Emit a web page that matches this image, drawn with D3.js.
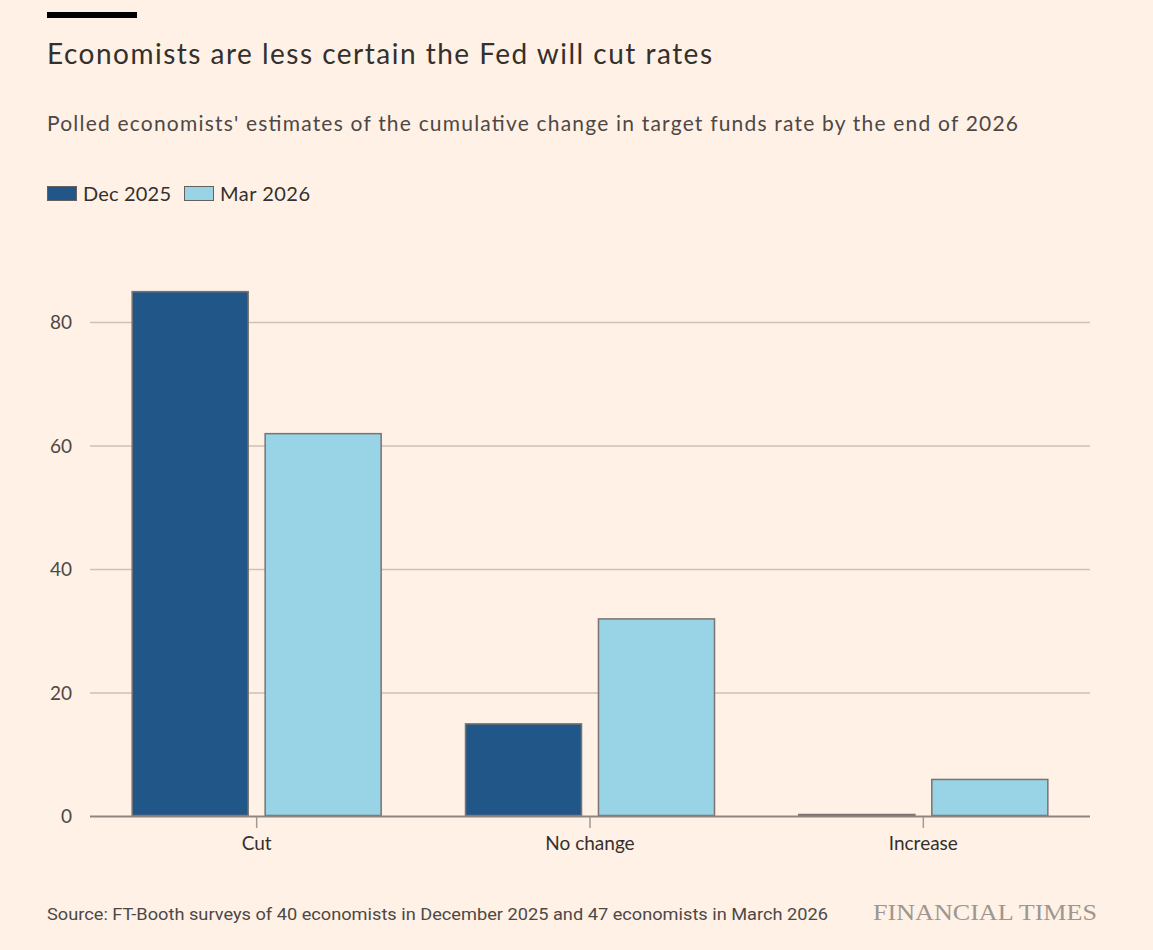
<!DOCTYPE html>
<html>
<head>
<meta charset="utf-8">
<script src="https://cdn.jsdelivr.net/npm/d3@7"></script>
<style>
  html, body { margin: 0; padding: 0; background: #fff1e5; }
  svg { display: block; font-family: Lato, "Open Sans", sans-serif; }
</style>
</head>
<body>
<svg id="chart" width="1153" height="950"></svg>
<script>
// chart data
const categories = ['Cut', 'No change', 'Increase']
const seriesNames = ['Dec 2025', 'Mar 2026']
const dec2025 = [85, 15, 0]
const mar2026 = [62, 32, 6]
const yTicks = [0, 20, 40, 60, 80]

const colours = ['#215689', '#98d3e6']

const svg = d3.select('#chart')
const margin = {top: 280, right: 63, bottom: 134, left: 90}
const width = +svg.attr('width') - margin.left - margin.right
const height = +svg.attr('height') - margin.top - margin.bottom

// top rule
svg.append('rect')
  .attr('x', 47).attr('y', 12)
  .attr('width', 90).attr('height', 6)
  .attr('fill', '#000')

svg.append('text')
  .attr('x', 47).attr('y', 64)
  .attr('font-size', 28)
  .attr('fill', '#33302e')
  .attr('textLength', 665)
  .text('Economists are less certain the Fed will cut rates')

svg.append('text')
  .attr('x', 47).attr('y', 131)
  .attr('font-size', 21)
  .attr('fill', '#4d4845')
  .attr('textLength', 971)
  .text("Polled economists' estimates of the cumulative change in target funds rate by the end of 2026")

// legend
const legendX = [47, 184]
const legendW = [88, 90]
seriesNames.forEach(function (name, i) {
  svg.append('rect')
    .attr('x', legendX[i] + 0.5).attr('y', 186.5)
    .attr('width', 29).attr('height', 14)
    .attr('fill', colours[i])
    .attr('stroke', '#66605c')
    .attr('stroke-width', 1)
  svg.append('text')
    .attr('x', legendX[i] + 36).attr('y', 201)
    .attr('font-size', 20)
    .attr('fill', '#33302e')
    .attr('textLength', legendW[i])
    .text(name)
})

const g = svg.append('g')
  .attr('transform', 'translate(' + margin.left + ',' + margin.top + ')')

const x0 = d3.scaleBand().domain(categories).range([0, width])
  .paddingInner(0.25).paddingOuter(0.125)
const x1 = d3.scaleBand().domain(seriesNames).range([0, x0.bandwidth()])
  .paddingInner(0.12)
const y = d3.scaleLinear().domain([0, 80]).range([height, height - 494])

// gridlines
g.append('g')
  .selectAll('line')
  .data(yTicks.filter(function (d) { return d !== 0 }))
  .enter().append('line')
  .attr('x1', 0).attr('x2', width)
  .attr('y1', function (d) { return y(d) + 0.5 })
  .attr('y2', function (d) { return y(d) + 0.5 })
  .attr('stroke', '#ccc1b7')
  .attr('stroke-width', 1.5)

// y labels
g.append('g')
  .selectAll('text')
  .data(yTicks)
  .enter().append('text')
  .attr('x', -18)
  .attr('y', function (d) { return y(d) + 7 })
  .attr('text-anchor', 'end')
  .attr('font-size', 19)
  .attr('fill', '#4d4845')
  .text(function (d) { return d })

// bars
const rows = categories.map(function (c, i) {
  return {cat: c, vals: [dec2025[i], mar2026[i]]}
})
const groups = g.append('g')
  .selectAll('g')
  .data(rows)
  .enter().append('g')
  .attr('transform', function (d) { return 'translate(' + x0(d.cat) + ',0)' })

groups.selectAll('rect')
  .data(function (d) {
    return d.vals.map(function (v, i) { return {name: seriesNames[i], value: v, i: i} })
  })
  .enter().append('rect')
  .attr('x', function (d) { return x1(d.name) + 0.5 })
  .attr('y', function (d) { return Math.min(y(d.value), height - 2) + 0.5 })
  .attr('width', x1.bandwidth() - 1)
  .attr('height', function (d) { return Math.max(1, height - y(d.value) - 1) })
  .attr('fill', function (d) { return colours[d.i] })
  .attr('stroke', '#7a7370')
  .attr('stroke-width', 1.5)

// x axis
g.append('line')
  .attr('x1', 0).attr('x2', width)
  .attr('y1', height + 0.5).attr('y2', height + 0.5)
  .attr('stroke', '#8f8680')
  .attr('stroke-width', 2)

g.append('g')
  .selectAll('line')
  .data(categories)
  .enter().append('line')
  .attr('x1', function (d) { return x0(d) + x0.bandwidth() / 2 })
  .attr('x2', function (d) { return x0(d) + x0.bandwidth() / 2 })
  .attr('y1', height + 1).attr('y2', height + 12)
  .attr('stroke', '#a39a94')
  .attr('stroke-width', 1.5)

g.append('g')
  .selectAll('text')
  .data(categories)
  .enter().append('text')
  .attr('x', function (d) { return x0(d) + x0.bandwidth() / 2 })
  .attr('y', height + 34)
  .attr('text-anchor', 'middle')
  .attr('font-size', 19)
  .attr('fill', '#33302e')
  .text(function (d) { return d })

// footer
svg.append('text')
  .attr('x', 47).attr('y', 920)
  .attr('font-size', 17)
  .attr('fill', '#4d4845')
  .attr('font-family', '"Liberation Sans Narrow", "Roboto", sans-serif')
  .attr('textLength', 781)
  .attr('lengthAdjust', 'spacingAndGlyphs')
  .text('Source: FT-Booth surveys of 40 economists in December 2025 and 47 economists in March 2026')

svg.append('text')
  .attr('x', 873).attr('y', 920)
  .attr('font-size', 23)
  .attr('fill', '#9e9690')
  .attr('font-family', '"Liberation Serif", "DejaVu Serif", serif')
  .attr('textLength', 224)
  .attr('lengthAdjust', 'spacingAndGlyphs')
  .text('FINANCIAL TIMES')
</script>
</body>
</html>
